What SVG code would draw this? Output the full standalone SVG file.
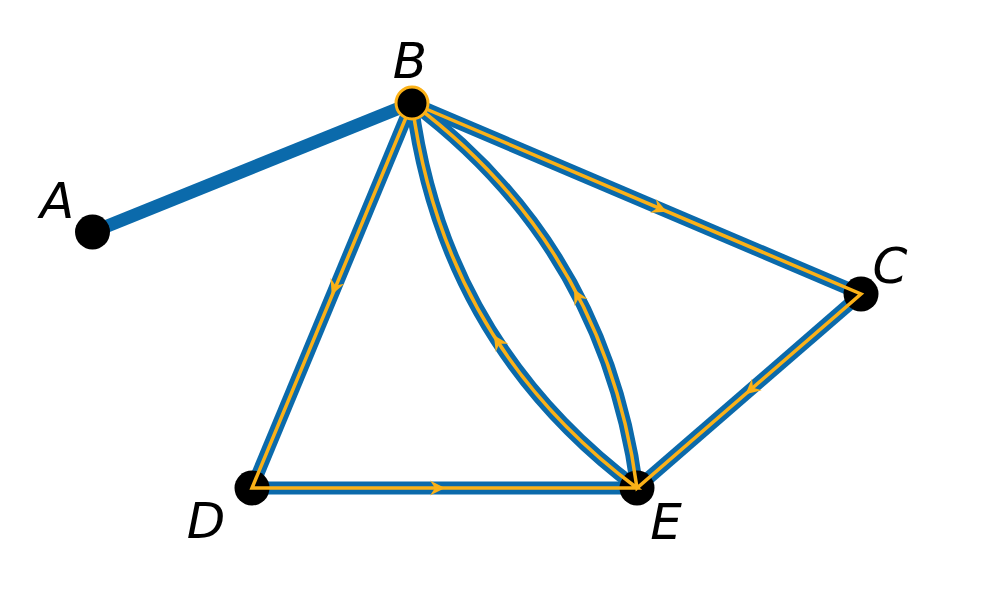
<svg xmlns="http://www.w3.org/2000/svg" width="1000" height="604" viewBox="0 0 1000 604">
<defs>
<style>
.edge{stroke:#0b6aab;stroke-width:13;fill:none;stroke-linecap:butt}
.trail{stroke:#fbb117;stroke-width:3.5;fill:none;stroke-linejoin:miter;stroke-miterlimit:4}
.node{fill:#000}
.arr{fill:#fbb117}
.lbl{font-family:"DejaVu Sans","Liberation Sans",sans-serif;font-style:italic;font-size:50px;fill:#000;text-anchor:middle}
</style>
<path id="ah" d="M2,0 L-13,-7.5 L-8,0 L-13,7.5 Z"/>
</defs>
<rect width="1000" height="604" fill="#fff"/>
<g id="connectors">
<line class="edge" x1="92.5" y1="232" x2="412" y2="103"/>
<line class="edge" x1="412" y1="103" x2="861" y2="294"/>
<line class="edge" x1="861" y1="294" x2="637" y2="488"/>
<path class="edge" d="M637,488 Q605,248 412,103"/>
<line class="edge" x1="412" y1="103" x2="252" y2="488"/>
<line class="edge" x1="252" y1="488" x2="637" y2="488"/>
<path class="edge" d="M637,488 Q443,343 412,103"/>
</g>
<g id="node-A"><circle class="node" cx="92.5" cy="232" r="17.5"/><text class="lbl" x="57" y="218">A</text></g>
<g id="node-C"><circle class="node" cx="861" cy="294" r="17.5"/><text class="lbl" x="890" y="283">C</text></g>
<g id="node-D"><circle class="node" cx="252" cy="488" r="17.5"/><text class="lbl" x="206" y="538">D</text></g>
<g id="node-E"><circle class="node" cx="637" cy="488" r="17.5"/><text class="lbl" x="666" y="539">E</text></g>
<g id="trail">
<path class="trail" d="M412,103 L861,294 L637,488 Q605,248 412,103 L252,488 L637,488 Q443,343 412,103"/>
<use href="#ah" class="arr" transform="translate(665,211) rotate(23)"/>
<use href="#ah" class="arr" transform="translate(747,393) rotate(139.1)"/>
<use href="#ah" class="arr" transform="translate(575,291) rotate(-118)"/>
<use href="#ah" class="arr" transform="translate(332.5,293) rotate(112.4)"/>
<use href="#ah" class="arr" transform="translate(443,488) rotate(0)"/>
<use href="#ah" class="arr" transform="translate(495,337) rotate(-122.8)"/>
</g>
<g id="node-B"><circle cx="412" cy="103" r="16" fill="#000" stroke="#fbb117" stroke-width="3"/><text class="lbl" x="410" y="78">B</text></g>
</svg>
